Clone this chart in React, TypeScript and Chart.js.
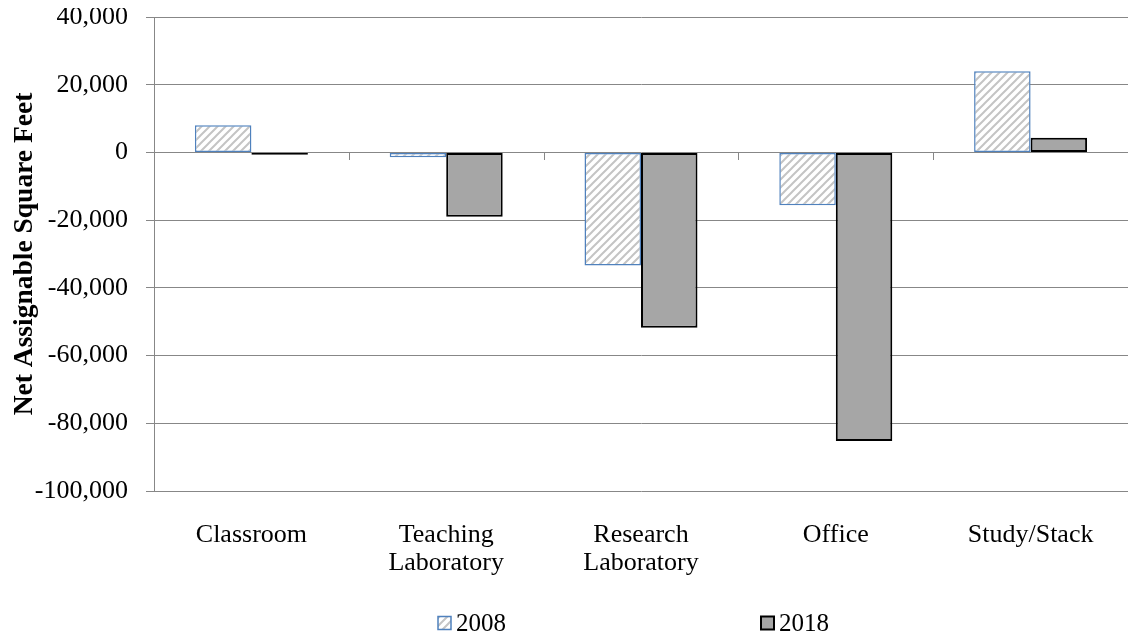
import React, { useEffect, useRef } from "react";
import { Chart, registerables } from "chart.js";

Chart.register(...registerables);

const categories = [["Classroom"], ["Teaching", "Laboratory"], ["Research", "Laboratory"], ["Office"], ["Study/Stack"]];
const series2008 = [8000, -1400, -33400, -15600, 24000];
const series2018 = [-700, -19000, -51800, -85200, 4300];
const seriesNames = ["2008", "2018"];
const yMin = -100000;
const yMax = 40000;
const yStep = 20000;
const yTitle = "Net Assignable Square Feet";

const FONT = "'Liberation Serif', 'Times New Roman', serif";
const GRID = "#878787";

function makeHatch(): CanvasPattern | string {
  const c = document.createElement("canvas");
  c.width = 8;
  c.height = 8;
  const g = c.getContext("2d");
  if (!g) return "#fff";
  g.fillStyle = "#ffffff";
  g.fillRect(0, 0, 8, 8);
  g.strokeStyle = "#c4c4c4";
  g.lineWidth = 2;
  g.beginPath();
  g.moveTo(0, 8);
  g.lineTo(8, 0);
  g.moveTo(-2, 2);
  g.lineTo(2, -2);
  g.moveTo(6, 10);
  g.lineTo(10, 6);
  g.stroke();
  return g.createPattern(c, "repeat") || "#fff";
}

export default function App() {
  const ref = useRef<HTMLCanvasElement | null>(null);

  useEffect(() => {
    if (!ref.current) return;
    document.body.style.margin = "0";
    const hatch = makeHatch();

    const zeroTicks = {
      id: "zeroTicks",
      afterDatasetsDraw(chart: any) {
        const x = chart.scales.x;
        const y = chart.scales.y;
        const y0 = Math.round(y.getPixelForValue(0));
        const ctx = chart.ctx;
        ctx.save();
        ctx.strokeStyle = GRID;
        ctx.lineWidth = 1;
        for (let i = 1; i <= categories.length; i++) {
          const px = Math.round(x.getPixelForValue(i - 0.5)) + 0.5;
          ctx.beginPath();
          ctx.moveTo(px, y0);
          ctx.lineTo(px, y0 + 8);
          ctx.stroke();
        }
        ctx.restore();
      },
    };

    const customLegend = {
      id: "customLegend",
      afterDraw(chart: any) {
        const ctx = chart.ctx;
        ctx.save();
        ctx.font = `25px ${FONT}`;
        const box = 13;
        const gapText = 5;
        const spacing = 255;
        const widths = seriesNames.map((n) => box + gapText + ctx.measureText(n).width);
        let x = 430;
        const cy = 615;
        chart.data.datasets.forEach((ds: any, i: number) => {
          ctx.fillStyle = ds.backgroundColor;
          ctx.fillRect(x, cy - box / 2, box, box);
          ctx.strokeStyle = ds.borderColor;
          ctx.lineWidth = i === 0 ? 1.5 : 2;
          ctx.strokeRect(x, cy - box / 2, box, box);
          ctx.fillStyle = "#000";
          ctx.textBaseline = "middle";
          ctx.textAlign = "left";
          ctx.fillText(seriesNames[i], x + box + gapText, cy + 1);
          x += widths[i] + spacing;
        });
        ctx.restore();
      },
    };

    const chart = new Chart(ref.current, {
      type: "bar",
      data: {
        labels: categories,
        datasets: [
          {
            label: seriesNames[0],
            data: series2008,
            backgroundColor: hatch as any,
            borderColor: "#4F81BD",
            borderWidth: 1.5,
            borderSkipped: false,
          },
          {
            label: seriesNames[1],
            data: series2018,
            backgroundColor: "#A6A6A6",
            borderColor: "#000000",
            borderWidth: 2,
            borderSkipped: false,
          },
        ],
      },
      options: {
        animation: false,
        responsive: false,
        maintainAspectRatio: false,
        layout: { padding: { top: 0, right: 0, bottom: 57, left: 0 } },
        datasets: {
          bar: { categoryPercentage: 0.58, barPercentage: 1 },
        },
        plugins: {
          legend: { display: false },
          tooltip: { enabled: false },
        },
        scales: {
          x: {
            grid: { display: false, drawTicks: true, tickLength: 8 },
            border: { display: false },
            afterFit(scale: any) {
              scale.height = 90;
              scale.paddingLeft = 0;
              scale.paddingRight = 0;
            },
            ticks: {
              color: "#000",
              font: { family: FONT, size: 26, lineHeight: 1.08 },
              padding: 22,
              maxRotation: 0,
              autoSkip: false,
            },
          },
          y: {
            min: yMin,
            max: yMax,
            afterFit(scale: any) {
              scale.width = 146;
              scale.paddingTop = 9;
              scale.paddingBottom = 0;
            },
            ticks: {
              stepSize: yStep,
              color: "#000",
              font: { family: FONT, size: 26 },
              padding: 18,
              callback: (v: any) => Number(v).toLocaleString("en-US"),
            },
            grid: { color: GRID, lineWidth: 1, tickLength: 8, drawTicks: true },
            border: { display: true, color: GRID, width: 1 },
            title: {
              display: true,
              text: yTitle,
              color: "#000",
              font: { family: FONT, size: 27.5, weight: "bold" },
              padding: { top: 0, bottom: 0 },
            },
          },
        },
      },
      plugins: [zeroTicks, customLegend],
    });
    return () => chart.destroy();
  }, []);

  return (
    <div style={{ width: 1120, height: 630, padding: "8px 0 0 8px" }}>
      <canvas ref={ref} width={1120} height={630} style={{ display: "block" }} />
    </div>
  );
}
